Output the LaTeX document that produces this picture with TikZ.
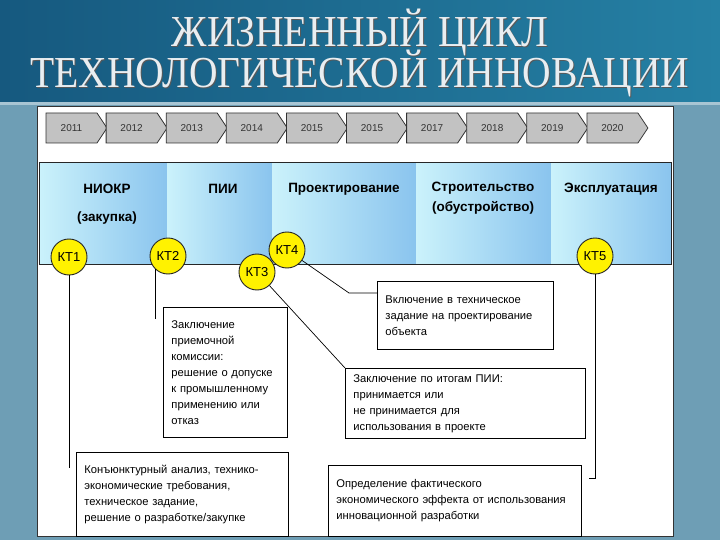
\documentclass[tikz,border=0pt]{standalone}
\usepackage{fontspec}
\setmainfont{Liberation Sans}
\newfontfamily\titlefont{Liberation Serif}
\usetikzlibrary{positioning}
\definecolor{slidebg}{HTML}{6E9EB5}
\definecolor{titledark}{HTML}{16597F}
\definecolor{titlelight}{HTML}{2580A4}
\definecolor{titletext}{HTML}{E9EEF1}
\definecolor{phaselight}{HTML}{CBF2FB}
\definecolor{phasedark}{HTML}{8AC4EE}
\definecolor{yeargray}{HTML}{C2C2C2}
\definecolor{ktyellow}{HTML}{FFF200}

\begin{document}
\begin{tikzpicture}[x=1pt, y=-1pt,
    yeararrow/.style={draw=black!80, fill=yeargray, line width=0.8pt},
    yearlabel/.style={font=\fontsize{10}{12}\selectfont, text=black!80},
    heading/.style={font=\titlefont\fontsize{39.5}{40}\selectfont, anchor=base},
    phase/.style={font=\fontsize{13.5}{16}\selectfont\bfseries, align=center},
    kt/.style={circle, draw=black!85, fill=ktyellow, line width=0.9pt, minimum size=36pt, inner sep=0pt, font=\fontsize{13}{13}\selectfont},
    note/.style={rectangle, draw=black, line width=0.9pt, fill=white, align=left, anchor=north west, inner xsep=8pt, font=\fontsize{11.2}{16}\selectfont},
    link/.style={draw=black, line width=0.7pt}]
    \fill[slidebg] (0,0) rectangle (720,540);
    \shade[left color=titledark, right color=titlelight] (0,0) rectangle (720,102);
    \fill[slidebg!60!white] (0,102) rectangle (720,105);
    \node[heading, text=black!65] (t1s) at (361,48) {\scalebox{1}[1.12]{ЖИЗНЕННЫЙ ЦИКЛ}};
    \node[heading, text=black!65] (t2s) at (361,89) {\scalebox{1}[1.12]{ТЕХНОЛОГИЧЕСКОЙ ИННОВАЦИИ}};
    \node[heading, text=titletext] (t1) at (360,47) {\scalebox{1}[1.12]{ЖИЗНЕННЫЙ ЦИКЛ}};
    \node[heading, text=titletext] (t2) at (360,88) {\scalebox{1}[1.12]{ТЕХНОЛОГИЧЕСКОЙ ИННОВАЦИИ}};

    \draw[fill=white, draw=black!80, line width=1pt] (37,107) rectangle (673,536);

    \foreach \yr [count=\i from 0] in {2011,2012,2013,2014,2015,2015,2017,2018,2019,2020} {
        \pgfmathsetmacro\xa{46+60.1*\i}
        \draw[yeararrow] (\xa,113) -- ++(51,0) -- ++(10,15) -- ++(-10,15) -- ++(-51,0) -- cycle;
        \node[yearlabel] (y\i) at (\xa+25.5,128) {\yr};
    }

    \foreach \xa/\xb in {39/167, 167/272, 272/416, 416/551, 551/671}
        \shade[left color=phaselight, right color=phasedark] (\xa,163) rectangle (\xb,264);
    \draw[black!85, line width=1pt] (39,163) rectangle (671,264);

    \node[phase] (p1) at (107,204) {НИОКР\\[12pt](закупка)};
    \node[phase] (p2) at (223,189) {ПИИ};
    \node[phase] (p3) at (344,189) {Проектирование};
    \node[phase] (p4) at (483,198) {Строительство\\[4pt](обустройство)};
    \node[phase] (p5) at (611,189) {Эксплуатация};

    \node[note, text width=196pt, minimum height=84pt] (b1) at (76,452) {Конъюнктурный анализ, технико-\\экономические требования,\\техническое задание,\\решение о разработке/закупке};
    \node[note, text width=108pt, minimum height=130pt] (b2) at (163,307) {Заключение\\приемочной\\комиссии:\\решение о допуске\\к промышленному\\применению или\\отказ};
    \node[note, text width=224pt, minimum height=70pt] (b3) at (345,368) {Заключение по итогам ПИИ:\\принимается или\\не принимается для\\использования в проекте};
    \node[note, text width=160pt, minimum height=68pt] (b4) at (377,281) {Включение в техническое\\задание на проектирование\\объекта};
    \node[note, text width=237pt, minimum height=71pt] (b5) at (328,465) {Определение фактического\\экономического эффекта от использования\\инновационной разработки};

    \node[kt] (kt1) at (69,257) {КТ1};
    \node[kt] (kt2) at (168,256) {КТ2};
    \node[kt] (kt3) at (257,272) {КТ3};
    \node[kt] (kt4) at (287,250) {КТ4};
    \node[kt] (kt5) at (595,256) {КТ5};

    \coordinate (e1) at (69,468);
    \coordinate (e2) at (156,319);
    \coordinate (k4) at (349,293);
    \coordinate (e5) at (589,478);
    \draw[link] (kt1.south) -- (kt1.south |- e1);
    \draw[link] (kt2.south west) -- (kt2.south west |- e2);
    \draw[link] (kt3) -- (b3.north west);
    \draw[link] (kt4) -- (k4) -- (k4 -| b4.west);
    \draw[link] (kt5.south) |- (e5);
\end{tikzpicture}
\end{document}
